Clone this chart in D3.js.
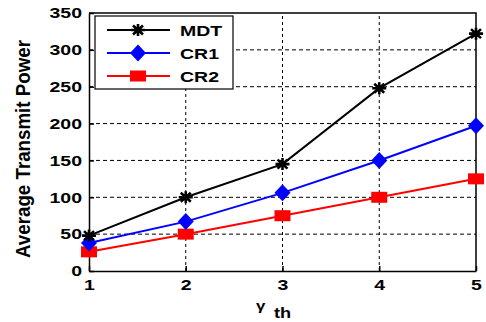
<!DOCTYPE html>
<html>
<head>
<style>
  body { margin: 0; background: #fff; }
  text { font-family: "Liberation Sans", Arial, sans-serif; font-weight: bold; }
</style>
</head>
<body>
<div id="chart"></div>
<script src="https://d3js.org/d3.v7.min.js"></script>
<script>
// data
var gammaTh = [1, 2, 3, 4, 5];
var mdt = [48, 100, 145, 248, 322];
var cr1 = [38, 67, 106, 150, 197];
var cr2 = [26, 50, 75, 100, 125];
var seriesNames = ["MDT", "CR1", "CR2"];
var yTicks = [0, 50, 100, 150, 200, 250, 300, 350];

var width = 486, height = 322;
var margin = {top: 13, right: 10, bottom: 51, left: 89};
var sx = 1.3; // the original figure is stretched sideways

var svg = d3.select("#chart").append("svg")
    .attr("width", width)
    .attr("height", height);

var x = d3.scaleLinear().domain([1, 5]).range([margin.left, width - margin.right]);
var y = d3.scaleLinear().domain([0, 350]).range([height - margin.bottom, margin.top]);

// grid
var grid = svg.append("g");
grid.selectAll(".hg").data(yTicks.slice(1, -1)).enter().append("line")
    .attr("x1", x(1)).attr("x2", x(5))
    .attr("y1", function(d) { return y(d); }).attr("y2", function(d) { return y(d); })
    .attr("stroke", "#000").attr("stroke-width", 1).attr("stroke-dasharray", "4,3");
grid.selectAll(".vg").data(gammaTh.slice(1, -1)).enter().append("line")
    .attr("y1", y(0)).attr("y2", y(350))
    .attr("x1", function(d) { return x(d); }).attr("x2", function(d) { return x(d); })
    .attr("stroke", "#000").attr("stroke-width", 1).attr("stroke-dasharray", "3,3");

// axes
var xAxis = svg.append("g").attr("transform", "translate(0," + y(0) + ")")
    .call(d3.axisBottom(x).tickValues(gammaTh).tickFormat(d3.format("d")).tickSizeInner(-5).tickSizeOuter(0).tickPadding(8));
var yAxis = svg.append("g").attr("transform", "translate(" + x(1) + ",0)")
    .call(d3.axisLeft(y).tickValues(yTicks).tickSizeInner(-5).tickSizeOuter(0).tickPadding(7));
[xAxis, yAxis].forEach(function(a) {
  a.selectAll("text").style("font-size", "15px").style("font-weight", "bold").attr("fill", "#000");
  a.selectAll("path, line").attr("stroke", "#000").attr("stroke-width", 1.5);
});
xAxis.selectAll("text").attr("transform", "scale(" + sx + ",1)");
yAxis.selectAll("text").attr("x", -7 / sx).attr("transform", "scale(" + sx + ",1)");

// top + right frame
svg.append("path")
    .attr("d", "M" + x(1) + "," + y(350) + "H" + x(5) + "V" + y(0))
    .attr("fill", "none").attr("stroke", "#000").attr("stroke-width", 1.5);

var line = d3.line()
    .x(function(d, i) { return x(gammaTh[i]); })
    .y(function(d) { return y(d); });

var colors = {MDT: "#000", CR1: "#0000ff", CR2: "#ff0000"};
var values = {MDT: mdt, CR1: cr1, CR2: cr2};

function drawMarker(g, name, cx, cy) {
  var m = g.append("g").attr("transform", "translate(" + cx + "," + cy + ")");
  if (name === "MDT") {
    m.append("path")
      .attr("d", "M-7,0H7M0,-6V6M-5,-4.5L5,4.5M-5,4.5L5,-4.5")
      .attr("stroke", "#000").attr("stroke-width", 2.6);
    m.append("ellipse").attr("rx", 3.5).attr("ry", 3).attr("fill", "#000");
  } else if (name === "CR1") {
    m.append("path").attr("d", "M0,-8.5L8,0L0,8.5L-8,0Z").attr("fill", colors.CR1);
  } else {
    m.append("rect").attr("x", -8).attr("y", -5.5).attr("width", 16).attr("height", 11)
      .attr("fill", colors.CR2);
  }
}

// draw from back to front so MDT on top
["CR2", "CR1", "MDT"].forEach(function(name) {
  var g = svg.append("g");
  g.append("path").datum(values[name])
    .attr("d", line).attr("fill", "none")
    .attr("stroke", colors[name]).attr("stroke-width", 2);
  values[name].forEach(function(v, i) { drawMarker(g, name, x(gammaTh[i]), y(v)); });
});

// legend
var lg = svg.append("g");
lg.append("rect").attr("x", 95).attr("y", 16).attr("width", 138).attr("height", 73)
    .attr("fill", "#fff").attr("stroke", "#000").attr("stroke-width", 1.2);
seriesNames.forEach(function(name, i) {
  var ly = 30 + i * 23;
  lg.append("line").attr("x1", 107).attr("x2", 170).attr("y1", ly).attr("y2", ly)
    .attr("stroke", colors[name]).attr("stroke-width", 2);
  drawMarker(lg, name, 138, ly);
  lg.append("text").attr("transform", "translate(180," + (ly + 5.5) + ") scale(" + sx + ",1)")
    .text(name).style("font-size", "15px").attr("fill", "#000");
});

// axis labels
svg.append("text")
    .attr("transform", "translate(30," + 149 + ") rotate(-90) scale(1," + sx + ")")
    .attr("text-anchor", "middle")
    .attr("textLength", 218).attr("lengthAdjust", "spacingAndGlyphs")
    .style("font-size", "16px")
    .text("Average Transmit Power");

svg.append("text").attr("transform", "translate(256,310) scale(" + sx + ",1)")
    .style("font-size", "13px").text("γ");
svg.append("text").attr("transform", "translate(274,318) scale(" + sx + ",1)")
    .style("font-size", "14px").text("th");
</script>
</body>
</html>
